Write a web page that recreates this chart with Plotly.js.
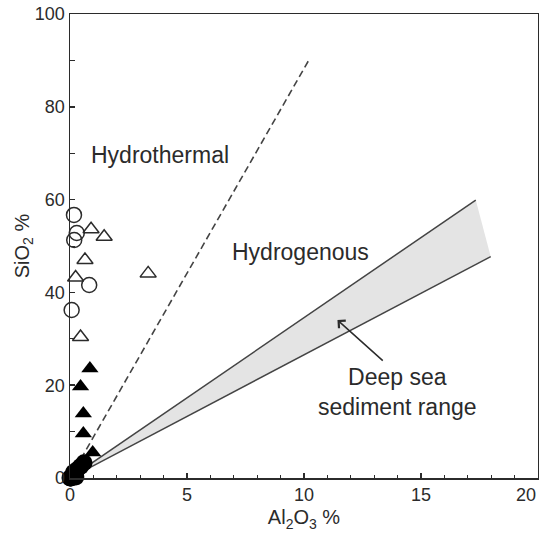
<!DOCTYPE html>
<html><head><meta charset="utf-8">
<script src="https://cdn.plot.ly/plotly-3.0.1.min.js"></script>
<style>html,body{margin:0;padding:0;background:#fff;}#chart{width:539px;height:533px;}</style>
</head><body><div id="chart"></div>
<script>
// Open circles
var openCircleX = [0.17, 0.29, 0.18, 0.82, 0.07];
var openCircleY = [56.7, 52.8, 51.3, 41.6, 36.2];
// Open triangles
var openTriX = [0.9, 1.46, 0.64, 0.24, 3.34, 0.45];
var openTriY = [53.6, 52.0, 47.0, 43.2, 44.1, 30.4];
// Filled triangles
var fillTriX = [0.85, 0.45, 0.57, 0.57, 0.97];
var fillTriY = [23.6, 19.7, 13.9, 9.6, 5.5];
// Filled circles
var fillCircleX = [0.0, 0.05, 0.1, 0.15, 0.25, 0.3, 0.45, 0.6, 0.02];
var fillCircleY = [0.0, 0.0, 0.5, 1.2, 0.2, 1.8, 2.5, 3.3, 0.0];
// Boundary lines
var hydrothermalLineX = [0, 10.2];
var hydrothermalLineY = [0, 90.0];
var upperLineX = [0, 17.34];
var upperLineY = [0, 59.9];
var lowerLineX = [0, 17.98];
var lowerLineY = [0, 47.7];
var xTicks = [0, 5, 10, 15, 20];
var xTickLabels = ['0', '5', '10', '15', '20'];
var yTicks = [0, 20, 40, 60, 80, 100];

var ink = '#2b2b2b';
var traces = [
  {x: [upperLineX[0], upperLineX[1], lowerLineX[1], lowerLineX[0]],
   y: [upperLineY[0], upperLineY[1], lowerLineY[1], lowerLineY[0]],
   mode: 'lines', fill: 'toself', fillcolor: '#e4e4e4', line: {width: 0, color: 'rgba(0,0,0,0)'}, hoverinfo: 'skip'},
  {x: upperLineX, y: upperLineY, mode: 'lines', line: {color: '#444', width: 1.5}},
  {x: lowerLineX, y: lowerLineY, mode: 'lines', line: {color: '#444', width: 1.5}},
  {x: hydrothermalLineX, y: hydrothermalLineY, mode: 'lines', line: {color: '#444', width: 1.6, dash: '7px,4px'}},
  {x: openCircleX, y: openCircleY, mode: 'markers', cliponaxis: false,
   marker: {symbol: 'circle-open', size: 15, color: ink, line: {width: 1.5, color: ink}}},
  {x: openTriX, y: openTriY, mode: 'markers', cliponaxis: false,
   marker: {symbol: 'triangle-up-open', size: 14, color: ink, line: {width: 1.5, color: ink}}},
  {x: fillTriX, y: fillTriY, mode: 'markers', cliponaxis: false,
   marker: {symbol: 'triangle-up', size: 15, color: '#000'}},
  {x: fillCircleX, y: fillCircleY, mode: 'markers', cliponaxis: false,
   marker: {symbol: 'circle', size: 17, color: '#000'}}
];

var fontFam = 'Liberation Sans, Arial, sans-serif';
var layout = {
  width: 539, height: 533,
  margin: {l: 70, r: 1, t: 14, b: 55},
  showlegend: false,
  paper_bgcolor: '#fff', plot_bgcolor: '#fff',
  font: {family: fontFam, color: ink},
  xaxis: {
    range: [0, 20], tickvals: xTicks.slice(0, 4), ticktext: xTickLabels.slice(0, 4),
    ticks: 'inside', ticklen: 5, tickcolor: ink, tickwidth: 1.5,
    minor: {dtick: 1, ticks: 'inside', ticklen: 3, tickcolor: ink, tickwidth: 1},
    showgrid: false, zeroline: false, showline: true, linecolor: ink, linewidth: 1.5, mirror: true,
    tickfont: {size: 18, color: ink},
    title: {text: 'Al<sub>2</sub>O<sub>3</sub> %', font: {size: 20, color: ink}, standoff: 6}
  },
  yaxis: {
    range: [0, 100], tickvals: yTicks, ticktext: yTicks.map(String),
    ticks: 'inside', ticklen: 5, tickcolor: ink, tickwidth: 1.5,
    minor: {dtick: 10, ticks: 'inside', ticklen: 5, tickcolor: ink, tickwidth: 1},
    showgrid: false, zeroline: false, showline: true, linecolor: ink, linewidth: 1.5, mirror: true,
    tickfont: {size: 18, color: ink},
    title: {text: 'SiO<sub>2</sub> %', font: {size: 20, color: ink}, standoff: 0}
  },
  annotations: [
    {x: xTicks[4], y: 0, xref: 'x', yref: 'y', text: xTickLabels[4], showarrow: false, xanchor: 'right', yanchor: 'top',
     yshift: -5, font: {size: 18, color: ink}},
    {x: 3.84, y: 69.6, xref: 'x', yref: 'y', text: 'Hydrothermal', showarrow: false, font: {size: 23, color: ink}},
    {x: 9.87, y: 48.8, xref: 'x', yref: 'y', text: 'Hydrogenous', showarrow: false, font: {size: 23, color: ink}},
    {x: 14.0, y: 18.6, xref: 'x', yref: 'y', text: 'Deep sea<br>sediment range', showarrow: false, font: {size: 23, color: ink}, align: 'center'},
    {x: 11.43, y: 34.05, ax: 13.43, ay: 25.0, xref: 'x', yref: 'y', axref: 'x', ayref: 'y', text: '', showarrow: true,
     arrowhead: 4, arrowsize: 1.3, arrowwidth: 1.5, arrowcolor: ink}
  ]
};
Plotly.newPlot('chart', traces, layout, {staticPlot: true, displayModeBar: false});
</script></body></html>
